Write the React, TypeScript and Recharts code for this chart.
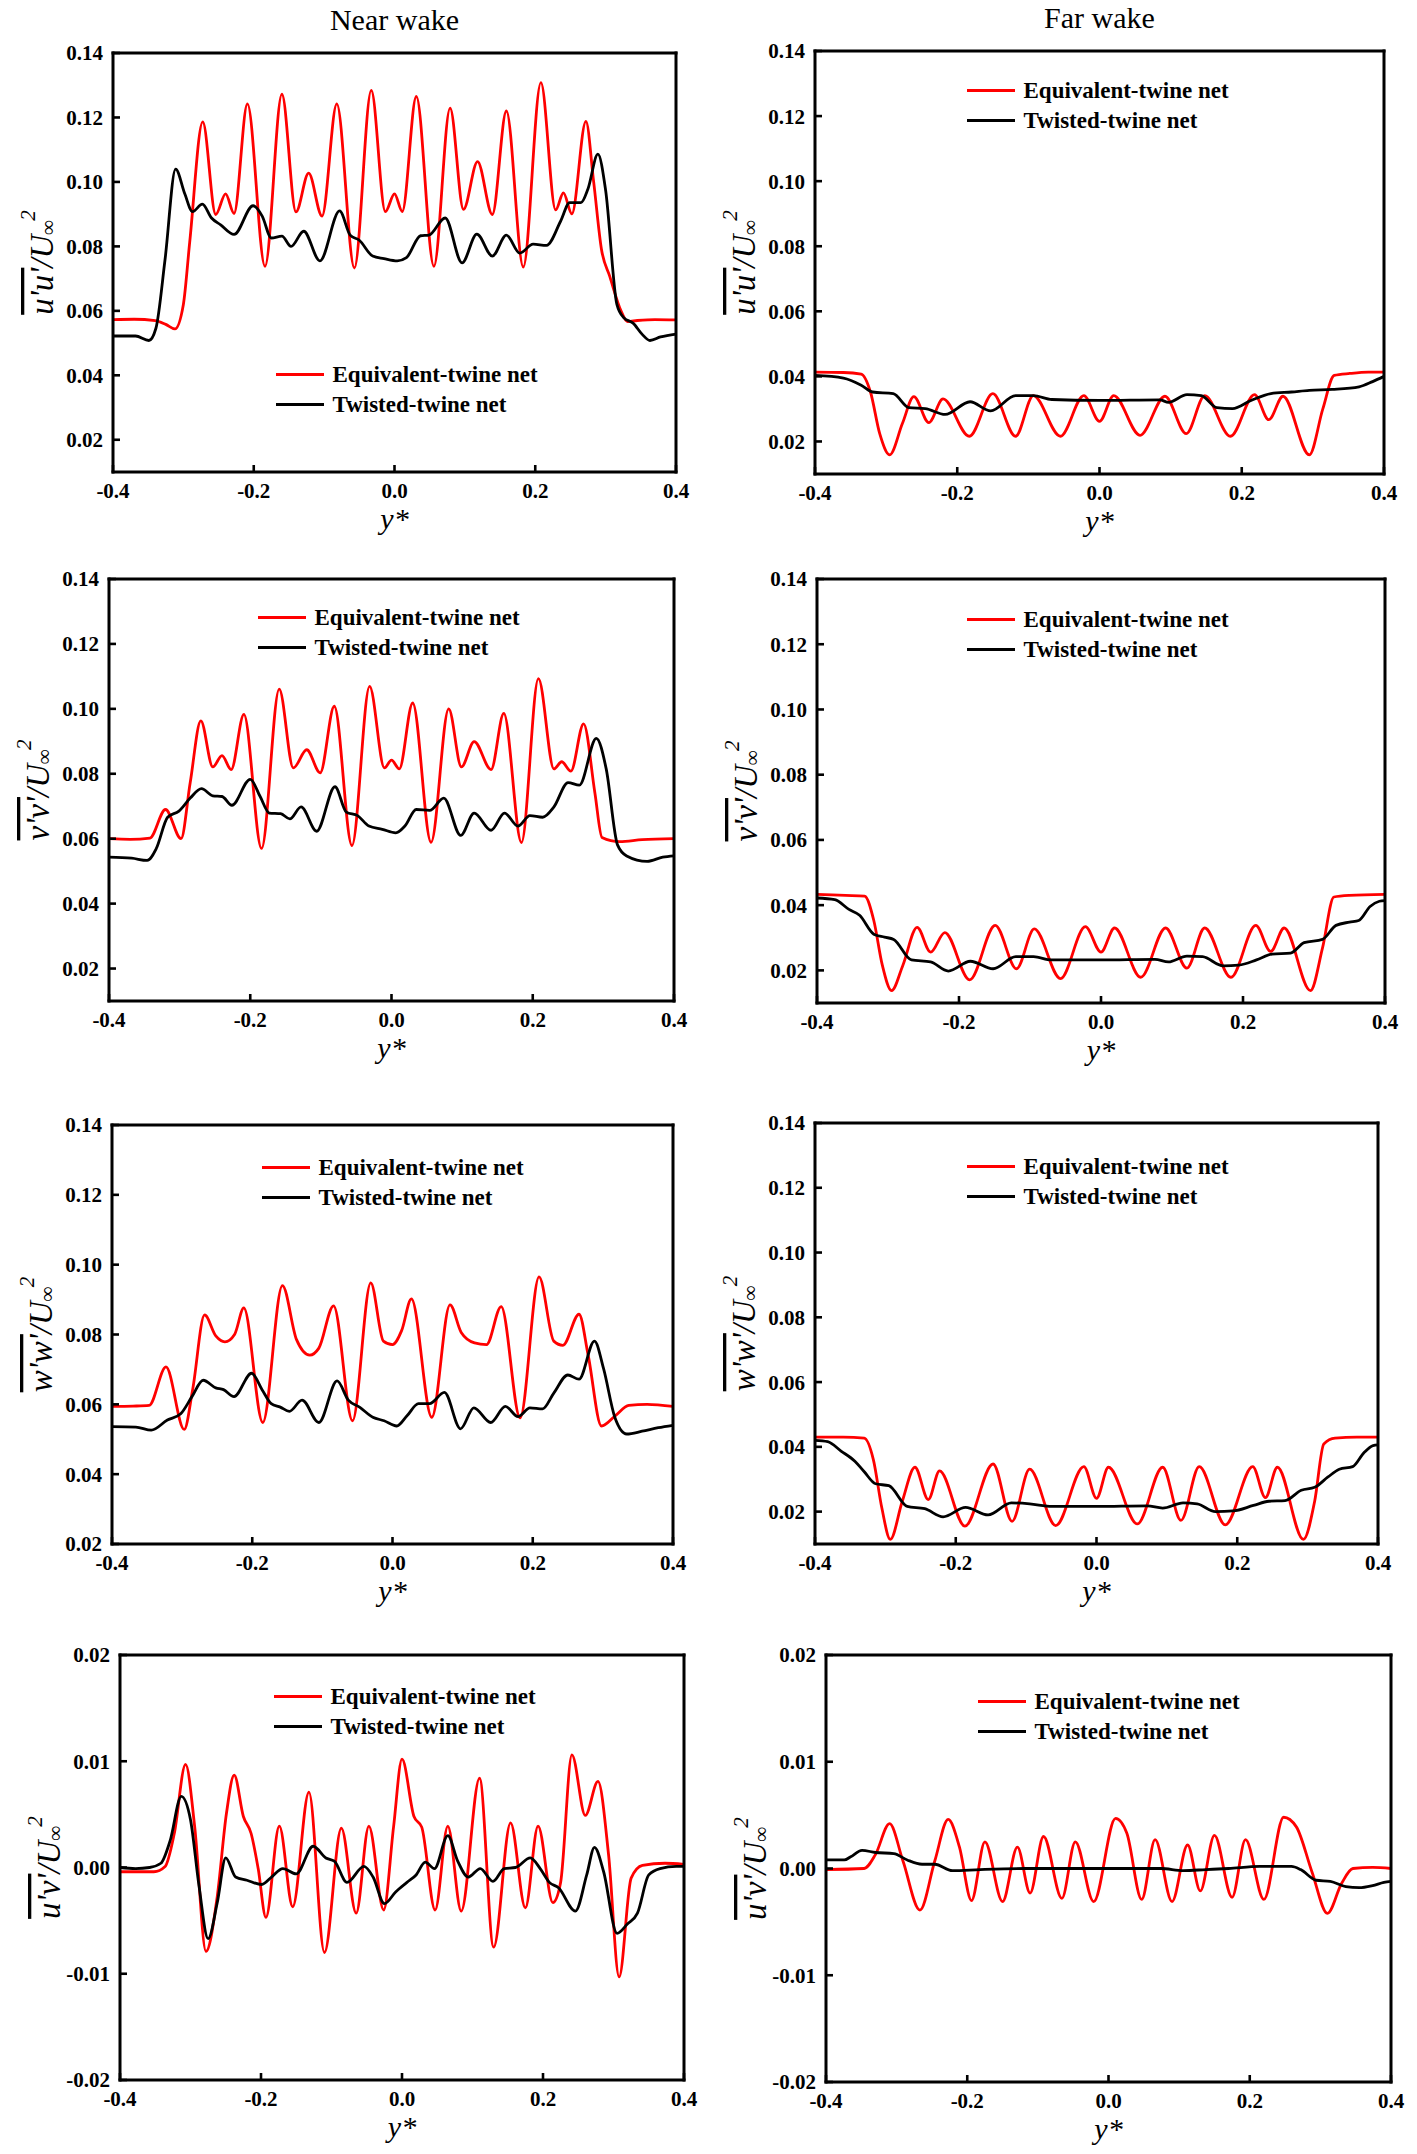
import React from 'react';
import { LineChart, Line, XAxis, YAxis, Legend } from 'recharts';

type Pt = [number, number];

const FONT = "'Liberation Serif', 'Times New Roman', serif";
const RED = '#ff0000';
const BLACK = '#000000';
const SERIES_NAMES = ['Equivalent-twine net', 'Twisted-twine net'];
const COLUMN_TITLES = ['Near wake', 'Far wake'];

const X_TICKS = [-0.4, -0.2, 0, 0.2, 0.4];
const Y_TICKS_NORMAL = [0.02, 0.04, 0.06, 0.08, 0.1, 0.12, 0.14];
const Y_TICKS_SHEAR = [-0.02, -0.01, 0, 0.01, 0.02];

// ---------- Row 1 : u'u' ----------
const nearUU_eq: Pt[] = [[-0.4,0.0573],[-0.37,0.0574],[-0.34,0.0570],[-0.325,0.0558],[-0.312,0.0544],[-0.300,0.0620],[-0.291,0.0813],[-0.2725,0.1186],[-0.254,0.0899],[-0.240,0.0963],[-0.228,0.0902],[-0.209,0.1242],[-0.184,0.0738],[-0.160,0.1272],[-0.140,0.0907],[-0.122,0.1027],[-0.103,0.0894],[-0.082,0.1242],[-0.057,0.0733],[-0.033,0.1284],[-0.013,0.0908],[0.0,0.0963],[0.011,0.0908],[0.031,0.1265],[0.056,0.0738],[0.079,0.1229],[0.098,0.0915],[0.118,0.1063],[0.139,0.0899],[0.159,0.1220],[0.183,0.0736],[0.208,0.1308],[0.229,0.0913],[0.240,0.0966],[0.252,0.0901],[0.272,0.1188],[0.283,0.1000],[0.294,0.0792],[0.306,0.0706],[0.322,0.0599],[0.331,0.0567],[0.345,0.0570],[0.37,0.0573],[0.4,0.0572]];
const nearUU_tw: Pt[] = [[-0.4,0.0522],[-0.368,0.0522],[-0.349,0.0508],[-0.339,0.0546],[-0.326,0.0760],[-0.311,0.1040],[-0.298,0.0963],[-0.287,0.0908],[-0.273,0.0931],[-0.260,0.0888],[-0.247,0.0867],[-0.228,0.0837],[-0.201,0.0926],[-0.188,0.0894],[-0.175,0.0826],[-0.160,0.0832],[-0.147,0.0800],[-0.129,0.0847],[-0.106,0.0755],[-0.078,0.0910],[-0.063,0.0835],[-0.050,0.0819],[-0.031,0.0770],[-0.015,0.0762],[0.004,0.0755],[0.017,0.0765],[0.037,0.0833],[0.049,0.0835],[0.072,0.0888],[0.096,0.0749],[0.117,0.0838],[0.139,0.0770],[0.159,0.0835],[0.178,0.0779],[0.197,0.0807],[0.216,0.0803],[0.236,0.0878],[0.249,0.0936],[0.265,0.0936],[0.275,0.0979],[0.289,0.1086],[0.300,0.0974],[0.316,0.0620],[0.326,0.0578],[0.339,0.0562],[0.352,0.0527],[0.363,0.0508],[0.378,0.0519],[0.4,0.0528]];
const farUU_eq: Pt[] = [[-0.4,0.0413],[-0.36,0.0412],[-0.335,0.0407],[-0.322,0.0352],[-0.309,0.0224],[-0.295,0.0159],[-0.277,0.0256],[-0.261,0.0338],[-0.240,0.0258],[-0.220,0.0331],[-0.183,0.0216],[-0.150,0.0347],[-0.118,0.0216],[-0.093,0.0341],[-0.055,0.0216],[-0.022,0.0341],[0.0,0.0262],[0.020,0.0341],[0.057,0.0219],[0.092,0.0339],[0.122,0.0224],[0.148,0.0341],[0.184,0.0216],[0.218,0.0344],[0.238,0.0267],[0.258,0.0339],[0.295,0.0159],[0.314,0.0300],[0.330,0.0403],[0.352,0.0409],[0.378,0.0413],[0.4,0.0413]];
const farUU_tw: Pt[] = [[-0.4,0.0403],[-0.36,0.0395],[-0.335,0.0373],[-0.319,0.0352],[-0.290,0.0347],[-0.268,0.0304],[-0.245,0.0301],[-0.217,0.0283],[-0.182,0.0322],[-0.153,0.0294],[-0.118,0.0341],[-0.093,0.0341],[-0.067,0.0329],[0.0,0.0326],[0.085,0.0328],[0.097,0.0320],[0.123,0.0344],[0.143,0.0341],[0.165,0.0304],[0.187,0.0301],[0.213,0.0326],[0.241,0.0347],[0.270,0.0352],[0.295,0.0357],[0.327,0.0360],[0.365,0.0368],[0.384,0.0384],[0.4,0.0400]];

// ---------- Row 2 : v'v' ----------
const nearVV_eq: Pt[] = [[-0.4,0.0600],[-0.37,0.0598],[-0.342,0.0602],[-0.320,0.0690],[-0.298,0.0600],[-0.285,0.0773],[-0.270,0.0963],[-0.253,0.0821],[-0.240,0.0856],[-0.227,0.0813],[-0.209,0.0983],[-0.184,0.0570],[-0.159,0.1061],[-0.139,0.0818],[-0.120,0.0874],[-0.101,0.0803],[-0.081,0.1008],[-0.056,0.0579],[-0.031,0.1069],[-0.010,0.0818],[0.0,0.0842],[0.011,0.0815],[0.030,0.1018],[0.056,0.0589],[0.081,0.1000],[0.099,0.0821],[0.117,0.0899],[0.141,0.0813],[0.159,0.0986],[0.184,0.0588],[0.208,0.1093],[0.230,0.0815],[0.241,0.0837],[0.254,0.0808],[0.272,0.0954],[0.288,0.0741],[0.298,0.0604],[0.323,0.0591],[0.355,0.0597],[0.4,0.0600]];
const nearVV_tw: Pt[] = [[-0.4,0.0543],[-0.368,0.0540],[-0.346,0.0533],[-0.333,0.0570],[-0.317,0.0666],[-0.301,0.0685],[-0.285,0.0725],[-0.269,0.0754],[-0.253,0.0732],[-0.240,0.0730],[-0.226,0.0703],[-0.200,0.0783],[-0.186,0.0730],[-0.173,0.0679],[-0.157,0.0677],[-0.144,0.0661],[-0.128,0.0698],[-0.106,0.0623],[-0.080,0.0760],[-0.064,0.0682],[-0.048,0.0671],[-0.032,0.0639],[-0.013,0.0629],[0.006,0.0618],[0.019,0.0639],[0.035,0.0690],[0.054,0.0687],[0.074,0.0725],[0.098,0.0610],[0.117,0.0679],[0.141,0.0626],[0.160,0.0679],[0.179,0.0639],[0.196,0.0671],[0.214,0.0666],[0.230,0.0698],[0.250,0.0773],[0.266,0.0765],[0.290,0.0909],[0.304,0.0815],[0.320,0.0581],[0.333,0.0547],[0.362,0.0530],[0.384,0.0543],[0.4,0.0547]];
const farVV_eq: Pt[] = [[-0.4,0.0433],[-0.36,0.0430],[-0.333,0.0428],[-0.320,0.0353],[-0.308,0.0216],[-0.295,0.0138],[-0.279,0.0216],[-0.259,0.0332],[-0.240,0.0256],[-0.220,0.0316],[-0.185,0.0171],[-0.149,0.0338],[-0.119,0.0205],[-0.094,0.0327],[-0.057,0.0175],[-0.022,0.0334],[0.0,0.0256],[0.019,0.0330],[0.056,0.0179],[0.091,0.0330],[0.121,0.0207],[0.146,0.0330],[0.183,0.0179],[0.218,0.0338],[0.239,0.0258],[0.258,0.0330],[0.295,0.0138],[0.312,0.0269],[0.328,0.0425],[0.350,0.0430],[0.4,0.0433]];
const farVV_tw: Pt[] = [[-0.4,0.0422],[-0.375,0.0417],[-0.355,0.0387],[-0.340,0.0369],[-0.320,0.0311],[-0.305,0.0302],[-0.292,0.0295],[-0.267,0.0232],[-0.240,0.0226],[-0.215,0.0198],[-0.184,0.0228],[-0.152,0.0205],[-0.120,0.0242],[-0.095,0.0242],[-0.070,0.0232],[0.0,0.0232],[0.076,0.0234],[0.095,0.0226],[0.121,0.0244],[0.143,0.0242],[0.172,0.0214],[0.194,0.0216],[0.219,0.0232],[0.241,0.0250],[0.267,0.0253],[0.286,0.0285],[0.312,0.0295],[0.331,0.0338],[0.350,0.0348],[0.363,0.0353],[0.379,0.0396],[0.392,0.0412],[0.4,0.0414]];

// ---------- Row 3 : w'w' ----------
const nearWW_eq: Pt[] = [[-0.4,0.0594],[-0.37,0.0595],[-0.347,0.0597],[-0.323,0.0707],[-0.297,0.0528],[-0.285,0.0642],[-0.268,0.0856],[-0.252,0.0796],[-0.239,0.0779],[-0.225,0.0801],[-0.212,0.0876],[-0.185,0.0548],[-0.157,0.0940],[-0.137,0.0786],[-0.118,0.0741],[-0.105,0.0761],[-0.084,0.0882],[-0.057,0.0553],[-0.031,0.0948],[-0.013,0.0781],[0.0,0.0771],[0.013,0.0811],[0.027,0.0902],[0.056,0.0563],[0.082,0.0885],[0.098,0.0806],[0.117,0.0776],[0.134,0.0771],[0.155,0.0880],[0.182,0.0561],[0.209,0.0965],[0.230,0.0781],[0.243,0.0769],[0.266,0.0858],[0.279,0.0741],[0.298,0.0538],[0.318,0.0568],[0.337,0.0597],[0.363,0.0600],[0.4,0.0594]];
const nearWW_tw: Pt[] = [[-0.4,0.0536],[-0.366,0.0535],[-0.344,0.0526],[-0.321,0.0555],[-0.302,0.0573],[-0.286,0.0622],[-0.270,0.0669],[-0.252,0.0647],[-0.241,0.0642],[-0.226,0.0622],[-0.201,0.0689],[-0.186,0.0642],[-0.173,0.0602],[-0.160,0.0592],[-0.147,0.0580],[-0.129,0.0612],[-0.105,0.0548],[-0.079,0.0667],[-0.063,0.0612],[-0.047,0.0592],[-0.028,0.0563],[-0.012,0.0553],[0.006,0.0538],[0.021,0.0568],[0.037,0.0602],[0.053,0.0602],[0.074,0.0634],[0.097,0.0530],[0.116,0.0590],[0.140,0.0548],[0.161,0.0594],[0.179,0.0565],[0.196,0.0590],[0.214,0.0587],[0.230,0.0632],[0.250,0.0684],[0.266,0.0672],[0.288,0.0781],[0.301,0.0702],[0.317,0.0563],[0.334,0.0515],[0.356,0.0523],[0.379,0.0533],[0.4,0.0540]];
const farWW_eq: Pt[] = [[-0.4,0.0430],[-0.36,0.0430],[-0.330,0.0427],[-0.317,0.0360],[-0.305,0.0211],[-0.293,0.0114],[-0.276,0.0232],[-0.258,0.0337],[-0.239,0.0237],[-0.223,0.0326],[-0.187,0.0155],[-0.147,0.0347],[-0.120,0.0170],[-0.095,0.0331],[-0.058,0.0157],[-0.018,0.0339],[0.0,0.0241],[0.017,0.0337],[0.058,0.0162],[0.094,0.0337],[0.120,0.0173],[0.146,0.0339],[0.183,0.0159],[0.222,0.0339],[0.240,0.0243],[0.257,0.0337],[0.294,0.0114],[0.310,0.0232],[0.323,0.0409],[0.339,0.0427],[0.37,0.0430],[0.4,0.0430]];
const farWW_tw: Pt[] = [[-0.4,0.0420],[-0.382,0.0416],[-0.363,0.0387],[-0.343,0.0355],[-0.330,0.0323],[-0.314,0.0286],[-0.295,0.0280],[-0.269,0.0216],[-0.244,0.0209],[-0.218,0.0184],[-0.186,0.0213],[-0.154,0.0190],[-0.121,0.0227],[-0.095,0.0224],[-0.063,0.0216],[0.0,0.0216],[0.072,0.0218],[0.094,0.0211],[0.123,0.0227],[0.143,0.0224],[0.169,0.0200],[0.194,0.0202],[0.223,0.0219],[0.245,0.0232],[0.268,0.0234],[0.291,0.0266],[0.310,0.0275],[0.329,0.0307],[0.345,0.0331],[0.364,0.0339],[0.380,0.0382],[0.393,0.0404],[0.4,0.0406]];

// ---------- Row 4 : u'v' ----------
const nearUV_eq: Pt[] = [[-0.4,-0.0004],[-0.352,-0.0004],[-0.336,0.0001],[-0.323,0.0032],[-0.307,0.0097],[-0.294,0.0038],[-0.278,-0.0079],[-0.262,-0.0027],[-0.249,0.0051],[-0.238,0.0087],[-0.225,0.0048],[-0.214,0.0032],[-0.204,-0.0001],[-0.193,-0.0047],[-0.174,0.0039],[-0.155,-0.0037],[-0.132,0.0071],[-0.110,-0.0080],[-0.086,0.0037],[-0.065,-0.0043],[-0.047,0.0039],[-0.026,-0.0040],[-0.012,0.0038],[0.0,0.0102],[0.017,0.0048],[0.028,0.0038],[0.047,-0.0040],[0.065,0.0039],[0.084,-0.0041],[0.110,0.0084],[0.130,-0.0075],[0.154,0.0042],[0.175,-0.0038],[0.193,0.0039],[0.214,-0.0033],[0.225,-0.0014],[0.241,0.0106],[0.260,0.0049],[0.278,0.0081],[0.293,0.0012],[0.308,-0.0103],[0.325,-0.0010],[0.341,0.0002],[0.373,0.0004],[0.4,0.0003]];
const nearUV_tw: Pt[] = [[-0.4,0.0],[-0.378,-0.0001],[-0.358,0.0],[-0.342,0.0004],[-0.329,0.0025],[-0.313,0.0067],[-0.300,0.0045],[-0.288,-0.0017],[-0.275,-0.0067],[-0.262,-0.0033],[-0.250,0.0009],[-0.236,-0.0009],[-0.220,-0.0012],[-0.199,-0.0016],[-0.185,-0.0009],[-0.169,-0.0001],[-0.150,-0.0006],[-0.126,0.0020],[-0.108,0.0009],[-0.096,0.0006],[-0.078,-0.0014],[-0.054,0.0001],[-0.041,-0.0009],[-0.025,-0.0034],[-0.009,-0.0023],[0.007,-0.0014],[0.020,-0.0007],[0.033,0.0005],[0.046,-0.0001],[0.065,0.0030],[0.079,0.0006],[0.094,-0.0009],[0.111,-0.0001],[0.129,-0.0013],[0.145,-0.0001],[0.161,0.0],[0.182,0.0009],[0.196,-0.0001],[0.209,-0.0014],[0.222,-0.0019],[0.246,-0.0041],[0.262,-0.0007],[0.273,0.0019],[0.286,-0.0004],[0.305,-0.0062],[0.320,-0.0053],[0.334,-0.0043],[0.350,-0.0007],[0.366,-0.0001],[0.389,0.0001],[0.4,0.0001]];
const farUV_eq: Pt[] = [[-0.4,-0.0001],[-0.346,0.0],[-0.330,0.0013],[-0.310,0.0042],[-0.291,0.0007],[-0.267,-0.0039],[-0.246,0.0007],[-0.227,0.0046],[-0.211,0.0020],[-0.194,-0.0030],[-0.175,0.0025],[-0.150,-0.0031],[-0.129,0.0020],[-0.111,-0.0023],[-0.092,0.0030],[-0.066,-0.0028],[-0.047,0.0025],[-0.021,-0.0031],[0.010,0.0047],[0.026,0.0033],[0.047,-0.0029],[0.066,0.0027],[0.090,-0.0031],[0.112,0.0022],[0.130,-0.0021],[0.150,0.0031],[0.175,-0.0027],[0.194,0.0027],[0.220,-0.0029],[0.248,0.0048],[0.266,0.0039],[0.288,-0.0003],[0.310,-0.0042],[0.330,-0.0014],[0.346,0.0],[0.374,0.0001],[0.4,0.0]];
const farUV_tw: Pt[] = [[-0.4,0.0008],[-0.374,0.0008],[-0.365,0.0011],[-0.349,0.0017],[-0.330,0.0015],[-0.304,0.0014],[-0.285,0.0008],[-0.264,0.0004],[-0.246,0.0004],[-0.221,-0.0002],[-0.182,-0.0001],[-0.118,0.0],[-0.054,0.0],[0.0,0.0],[0.074,0.0],[0.106,-0.0002],[0.138,-0.0001],[0.170,0.0],[0.214,0.0002],[0.259,0.0002],[0.272,-0.0001],[0.294,-0.0011],[0.314,-0.0012],[0.336,-0.0017],[0.355,-0.0018],[0.374,-0.0016],[0.390,-0.0013],[0.4,-0.0012]];

interface PanelSpec {
  id: string;
  plot: { x: number; y: number; w: number; h: number };
  domain: [number, number];
  ticks: number[];
  eq: Pt[];
  tw: Pt[];
  sym: string;
  legend: { x: number; y: number };
  title?: string;
}

const PANELS: PanelSpec[] = [
  { id: 'p1', plot: { x: 113, y: 53, w: 563, h: 419 }, domain: [0.01, 0.14], ticks: Y_TICKS_NORMAL, eq: nearUU_eq, tw: nearUU_tw, sym: "u'u'", legend: { x: 276, y: 375 }, title: COLUMN_TITLES[0] },
  { id: 'p2', plot: { x: 815, y: 51, w: 569, h: 423 }, domain: [0.01, 0.14], ticks: Y_TICKS_NORMAL, eq: farUU_eq, tw: farUU_tw, sym: "u'u'", legend: { x: 967, y: 91 }, title: COLUMN_TITLES[1] },
  { id: 'p3', plot: { x: 109, y: 579, w: 565, h: 422 }, domain: [0.01, 0.14], ticks: Y_TICKS_NORMAL, eq: nearVV_eq, tw: nearVV_tw, sym: "v'v'", legend: { x: 258, y: 618 } },
  { id: 'p4', plot: { x: 817, y: 579, w: 568, h: 424 }, domain: [0.01, 0.14], ticks: Y_TICKS_NORMAL, eq: farVV_eq, tw: farVV_tw, sym: "v'v'", legend: { x: 967, y: 620 } },
  { id: 'p5', plot: { x: 112, y: 1125, w: 561, h: 419 }, domain: [0.02, 0.14], ticks: Y_TICKS_NORMAL, eq: nearWW_eq, tw: nearWW_tw, sym: "w'w'", legend: { x: 262, y: 1168 } },
  { id: 'p6', plot: { x: 815, y: 1123, w: 563, h: 421 }, domain: [0.01, 0.14], ticks: Y_TICKS_NORMAL, eq: farWW_eq, tw: farWW_tw, sym: "w'w'", legend: { x: 967, y: 1167 } },
  { id: 'p7', plot: { x: 120, y: 1655, w: 564, h: 425 }, domain: [-0.02, 0.02], ticks: Y_TICKS_SHEAR, eq: nearUV_eq, tw: nearUV_tw, sym: "u'v'", legend: { x: 274, y: 1697 } },
  { id: 'p8', plot: { x: 826, y: 1655, w: 565, h: 427 }, domain: [-0.02, 0.02], ticks: Y_TICKS_SHEAR, eq: farUV_eq, tw: farUV_tw, sym: "u'v'", legend: { x: 978, y: 1702 } },
];

const toRows = (pts: Pt[]) => pts.map(([x, y]) => ({ x, y }));
const fmtX = (v: number) => v.toFixed(1);
const fmtY = (v: number) => v.toFixed(2);

const AXIS_LINE = { stroke: '#000', strokeWidth: 3, strokeLinecap: 'square' as const };
const TICK_LINE = { stroke: '#000', strokeWidth: 2.6 };
const TICK_FONT = { fill: '#000', fontSize: 21, fontWeight: 700, fontFamily: FONT };

const L = 100, R = 20, T = 50, B = 80;

function Panel({ spec }: { spec: PanelSpec }) {
  const { plot } = spec;
  const left = plot.x - L;
  const top = plot.y - T;
  const width = plot.w + L + R;
  const height = plot.h + T + B;
  const legendLeft = spec.legend.x - left;
  const legendTop = spec.legend.y - top - 15;

  const xLabel = () => (
    <text x={L + plot.w / 2} y={T + plot.h + 57} textAnchor="middle" fontFamily={FONT} fontStyle="italic" fontSize={30} fill="#000">y*</text>
  );
  const bx = L - 60;
  const cy = T + plot.h / 2;
  const yLabel = () => (
    <text transform={`rotate(-90 ${bx} ${cy})`} x={bx} y={cy} textAnchor="middle" fontFamily={FONT} fontStyle="italic" fontSize={33} fill="#000">
      <tspan style={{ textDecoration: 'overline' }}>{spec.sym}</tspan>
      <tspan>/U</tspan>
      <tspan fontSize={21} dy={2}>∞</tspan>
      <tspan fontSize={21} dx={-1} dy={-20}>2</tspan>
    </text>
  );
  const titleLabel = () => (
    spec.title ? (
      <text x={L + plot.w / 2} y={plot.y - top - 53 + 30} textAnchor="middle" fontFamily={FONT} fontSize={30} fill="#000">{spec.title}</text>
    ) : null
  );

  const renderLegend = (props: any) => {
    const payload = props.payload || [];
    return (
      <div style={{ fontFamily: FONT }}>
        {payload.map((p: any) => (
          <div key={p.value} style={{ display: 'flex', alignItems: 'center', height: 29.5, whiteSpace: 'nowrap' }}>
            <span style={{ display: 'inline-block', width: 48, height: 3, background: p.color, marginRight: 8.5 }} />
            <span style={{ fontSize: 23, fontWeight: 700, color: '#000', lineHeight: '29px' }}>{p.value}</span>
          </div>
        ))}
      </div>
    );
  };

  return (
    <div style={{ position: 'absolute', left, top }}>
      <LineChart width={width} height={height} margin={{ top: 0, right: 0, bottom: 0, left: 0 }}>
        <XAxis xAxisId="b" type="number" dataKey="x" domain={[-0.4, 0.4]} ticks={X_TICKS} interval={0}
          tickFormatter={fmtX} height={B} tickSize={-7} tickMargin={18}
          axisLine={AXIS_LINE} tickLine={TICK_LINE} tick={TICK_FONT} label={xLabel} />
        <XAxis xAxisId="t" orientation="top" type="number" dataKey="x" domain={[-0.4, 0.4]} ticks={X_TICKS} interval={0}
          height={T} tickSize={-7} tick={false} axisLine={AXIS_LINE} tickLine={TICK_LINE} label={titleLabel} />
        <YAxis yAxisId="l" type="number" domain={spec.domain} ticks={spec.ticks} interval={0}
          tickFormatter={fmtY} width={L} tickSize={-7} tickMargin={17}
          axisLine={AXIS_LINE} tickLine={TICK_LINE} tick={TICK_FONT} label={yLabel} />
        <YAxis yAxisId="r" orientation="right" type="number" domain={spec.domain} ticks={spec.ticks} interval={0}
          width={R} tickSize={-7} tick={false} axisLine={AXIS_LINE} tickLine={TICK_LINE} />
        <Line xAxisId="b" yAxisId="l" data={toRows(spec.eq)} dataKey="y" name={SERIES_NAMES[0]} type="monotone"
          stroke={RED} strokeWidth={2.8} dot={false} activeDot={false} isAnimationActive={false} />
        <Line xAxisId="b" yAxisId="l" data={toRows(spec.tw)} dataKey="y" name={SERIES_NAMES[1]} type="monotone"
          stroke={BLACK} strokeWidth={2.8} dot={false} activeDot={false} isAnimationActive={false} />
        <Legend layout="vertical" align="center" verticalAlign="middle" content={renderLegend}
          wrapperStyle={{ left: legendLeft, top: legendTop, width: 320, height: 60 }} />
      </LineChart>
    </div>
  );
}

export default function App() {
  return (
    <div style={{ position: 'relative', width: 1417, height: 2154, margin: -8, background: '#fff', fontFamily: FONT }}>
      {PANELS.map((p) => (
        <Panel key={p.id} spec={p} />
      ))}
    </div>
  );
}
